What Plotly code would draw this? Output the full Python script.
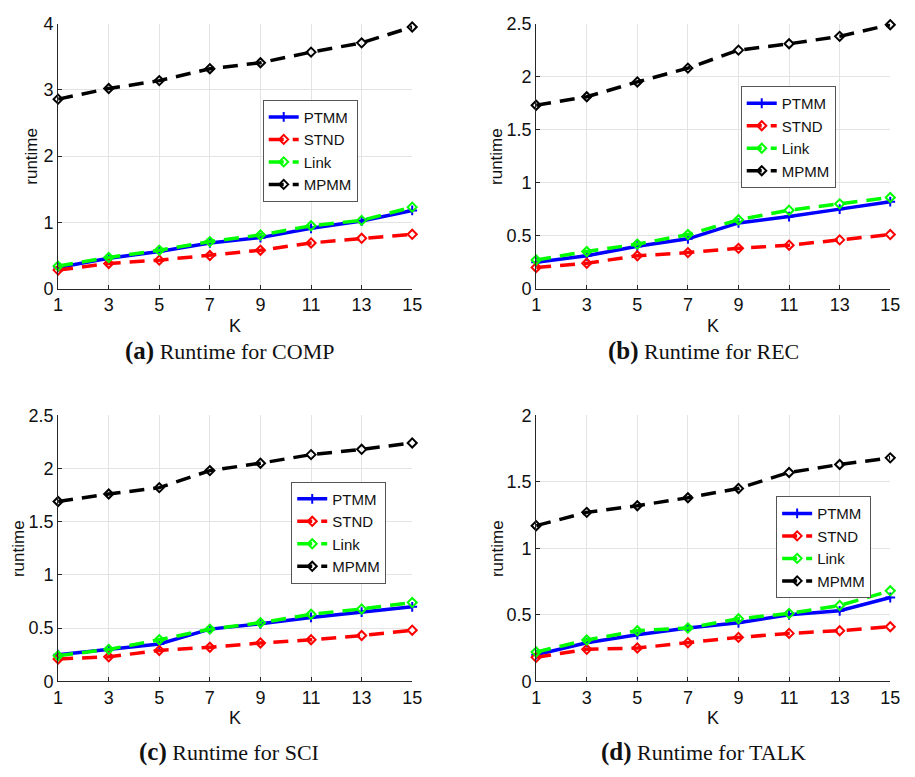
import plotly.graph_objects as go

K = [1, 3, 5, 7, 9, 11, 13, 15]
series_names = ["PTMM", "STND", "Link", "MPMM"]

comp_ptmm = [0.32, 0.46, 0.56, 0.69, 0.77, 0.91, 1.02, 1.18]
comp_stnd = [0.28, 0.38, 0.43, 0.50, 0.58, 0.69, 0.76, 0.82]
comp_link = [0.34, 0.47, 0.58, 0.71, 0.81, 0.95, 1.03, 1.23]
comp_mpmm = [2.86, 3.02, 3.14, 3.32, 3.41, 3.57, 3.71, 3.95]

rec_ptmm = [0.25, 0.31, 0.40, 0.47, 0.62, 0.68, 0.75, 0.82]
rec_stnd = [0.20, 0.24, 0.31, 0.34, 0.38, 0.41, 0.46, 0.51]
rec_link = [0.27, 0.35, 0.42, 0.51, 0.65, 0.74, 0.80, 0.86]
rec_mpmm = [1.73, 1.81, 1.95, 2.08, 2.25, 2.31, 2.38, 2.49]

sci_ptmm = [0.25, 0.30, 0.35, 0.49, 0.54, 0.60, 0.65, 0.70]
sci_stnd = [0.21, 0.23, 0.29, 0.32, 0.36, 0.39, 0.43, 0.48]
sci_link = [0.24, 0.30, 0.39, 0.49, 0.55, 0.63, 0.68, 0.74]
sci_mpmm = [1.69, 1.76, 1.82, 1.98, 2.05, 2.13, 2.18, 2.24]

talk_ptmm = [0.20, 0.29, 0.35, 0.40, 0.44, 0.50, 0.53, 0.63]
talk_stnd = [0.18, 0.24, 0.25, 0.29, 0.33, 0.36, 0.38, 0.41]
talk_link = [0.22, 0.31, 0.38, 0.40, 0.47, 0.51, 0.57, 0.68]
talk_mpmm = [1.17, 1.27, 1.32, 1.38, 1.45, 1.57, 1.63, 1.68]

caption_tags = ["(a)", "(b)", "(c)", "(d)"]
caption_texts = ["Runtime for COMP", "Runtime for REC", "Runtime for SCI", "Runtime for TALK"]
y_ranges = [4, 2.5, 2.5, 2]
y_ticks = [[0, 1, 2, 3, 4], [0, 0.5, 1, 1.5, 2, 2.5], [0, 0.5, 1, 1.5, 2, 2.5], [0, 0.5, 1, 1.5, 2]]
panels = [
    [comp_ptmm, comp_stnd, comp_link, comp_mpmm],
    [rec_ptmm, rec_stnd, rec_link, rec_mpmm],
    [sci_ptmm, sci_stnd, sci_link, sci_mpmm],
    [talk_ptmm, talk_stnd, talk_link, talk_mpmm],
]

W, H = 915, 777
# pixel boxes of plot areas: (x0, x1, ytop, ybottom)
boxes = [(54, 414, 14, 286), (540, 900, 14, 286), (54, 414, 416, 689), (540, 900, 416, 689)]
legend_pos = [(262, 92), (748, 78), (291, 484), (784, 499)]
runtime_off = [27, 41, 41, 40]
caption_pos = [(228, 350), (710, 350), (228, 762), (710, 762)]

colors = ["#0000ff", "#ff0000", "#00ff00", "#000000"]
dashes = ["solid", "15px,9px", "15px,9px", "15px,9px"]
symbols = ["cross-thin-open", "diamond-open", "diamond-open", "diamond-open"]

fig = go.Figure()
lay = dict(width=W, height=H, margin=dict(l=0, r=0, t=0, b=0),
           paper_bgcolor="white", plot_bgcolor="white", showlegend=True)
annotations = []
font_sans = "Liberation Sans, Arial, sans-serif"

for i, (vals, box) in enumerate(zip(panels, boxes)):
    x0, x1, yt, yb = box
    xa = "x" if i == 0 else f"x{i+1}"
    ya = "y" if i == 0 else f"y{i+1}"
    leg = "legend" if i == 0 else f"legend{i+1}"
    for j, name in enumerate(series_names):
        fig.add_trace(go.Scatter(
            x=K, y=vals[j], name=name, mode="lines+markers",
            xaxis=xa, yaxis=ya, legend=leg, cliponaxis=False,
            line=dict(color=colors[j], width=3.5, dash=dashes[j]),
            marker=dict(symbol=symbols[j], size=7, color=colors[j],
                        line=dict(width=2, color=colors[j])),
        ))
    axkey = "xaxis" if i == 0 else f"xaxis{i+1}"
    aykey = "yaxis" if i == 0 else f"yaxis{i+1}"
    lay[axkey] = dict(domain=[x0 / W, x1 / W], anchor=ya, range=[1, 15],
                      tickmode="array", tickvals=K, ticktext=[str(k) for k in K],
                      showgrid=True, gridcolor="#e3e3e3", gridwidth=1,
                      showline=True, linecolor="#262626", linewidth=1,
                      ticks="inside", ticklen=4, tickcolor="#262626",
                      zeroline=False, tickfont=dict(family=font_sans, size=18, color="#111"))
    lay[aykey] = dict(domain=[1 - yb / H, 1 - yt / H], anchor=xa, range=[0, y_ranges[i]],
                      tickmode="array", tickvals=y_ticks[i],
                      ticktext=[("%g" % v) for v in y_ticks[i]],
                      showgrid=True, gridcolor="#e3e3e3", gridwidth=1,
                      showline=True, linecolor="#262626", linewidth=1,
                      ticks="inside", ticklen=4, tickcolor="#262626",
                      zeroline=False, tickfont=dict(family=font_sans, size=18, color="#111"))
    lx, ly = legend_pos[i]
    lay[leg] = dict(x=lx / W, y=1 - ly / H, xanchor="left", yanchor="top",
                    bgcolor="white", bordercolor="#555", borderwidth=1,
                    font=dict(family=font_sans, size=15, color="#111"),
                    tracegroupgap=0, itemwidth=30)
    # axis titles
    annotations.append(dict(text="K", x=(x0 + x1) / 2 / W, y=1 - (yb + 38) / H,
                            xref="paper", yref="paper", showarrow=False,
                            xanchor="center", yanchor="middle",
                            font=dict(family=font_sans, size=18, color="#111")))
    annotations.append(dict(text="runtime", x=(x0 - runtime_off[i]) / W, y=1 - ((yt + yb) / 2) / H,
                            xref="paper", yref="paper", showarrow=False, textangle=-90,
                            xanchor="center", yanchor="middle",
                            font=dict(family=font_sans, size=17, color="#111")))
    cx, cy = caption_pos[i]
    annotations.append(dict(
        text=f"<b><span style='font-size:25px'>{caption_tags[i]}</span></b> {caption_texts[i]}",
        x=cx / W, y=1 - cy / H, xref="paper", yref="paper", showarrow=False,
        xanchor="center", yanchor="middle",
        font=dict(family="Liberation Serif, Times New Roman, serif", size=22, color="#111")))

lay["annotations"] = annotations
fig.update_layout(**lay)
fig.write_html("out.html")
